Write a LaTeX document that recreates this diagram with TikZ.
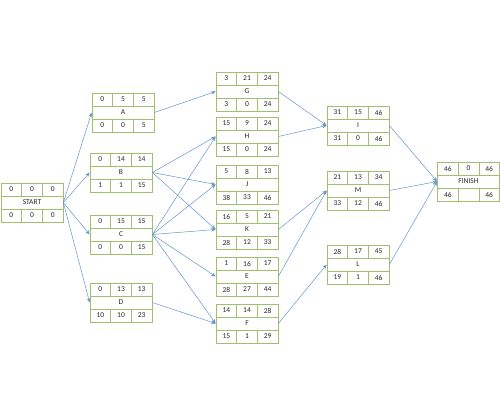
\documentclass[tikz,border=0pt]{standalone}
\usepackage{fontspec}
\setmainfont{Carlito}
\definecolor{boxgreen}{RGB}{160, 192, 110}
\definecolor{linkblue}{RGB}{100, 150, 205}
\definecolor{textgray}{RGB}{40, 40, 40}
\usepackage{tikz}
\usetikzlibrary{arrows.meta}

\tikzset{
  cell/.style={draw=boxgreen, line width=0.7pt, minimum width=20.67pt,
    minimum height=13pt, inner sep=0pt, text=textgray,
    font=\fontsize{7.5}{8}\selectfont},
  wide/.style={cell, minimum width=62pt},
  link/.style={-{Stealth[length=4.5pt, width=3.5pt]}, linkblue, line width=0.5pt}
}

% #1 name, #2 x, #3 y (top left), #4 early row, #5 label, #6 late row
\newcommand{\actbox}[6]{%
  \foreach \v [count=\i] in {#4}
    \node[cell] (#1-t\i) at ({#2+\i*20.67-10.33}, {#3+6.5}) {\v};
  \node[wide] (#1) at ({#2+31}, {#3+19.5}) {#5};
  \foreach \v [count=\i] in {#6}
    \node[cell] (#1-b\i) at ({#2+\i*20.67-10.33}, {#3+32.5}) {\v};
}

\begin{document}
\begin{tikzpicture}[x=1pt, y=-1pt]
  \useasboundingbox (0,0) rectangle (500,410);

  \actbox{START}{1}{183}{0,0,0}{START}{0,0,0}
  \actbox{A}{92}{93}{0,5,5}{A}{0,0,5}
  \actbox{B}{90}{153}{0,14,14}{B}{1,1,15}
  \actbox{C}{90}{215}{0,15,15}{C}{0,0,15}
  \actbox{D}{90}{283}{0,13,13}{D}{10,10,23}
  \actbox{G}{216}{72}{3,21,24}{G}{3,0,24}
  \actbox{H}{216}{117}{15,9,24}{H}{15,0,24}
  \actbox{J}{216}{165}{5,8,13}{J}{38,33,46}
  \actbox{K}{216}{210}{16,5,21}{K}{28,12,33}
  \actbox{E}{216}{257}{1,16,17}{E}{28,27,44}
  \actbox{F}{216}{304}{14,14,28}{F}{15,1,29}
  \actbox{I}{327}{106}{31,15,46}{I}{31,0,46}
  \actbox{M}{327}{171}{21,13,34}{M}{33,12,46}
  \actbox{L}{327}{245}{28,17,45}{L}{19,1,46}
  \actbox{FINISH}{437.5}{162}{46,0,46}{FINISH}{46,{},46}

  \foreach \s/\t in {START/A, START/B, START/C, START/D,
      A/G, B/H, B/J, B/K, C/H, C/J, C/K, C/E, C/F, D/F,
      G/I, H/I, K/M, E/M, F/L, I/FINISH, M/FINISH, L/FINISH}
    \draw[link] (\s.east) -- (\t.west);
\end{tikzpicture}
\end{document}
